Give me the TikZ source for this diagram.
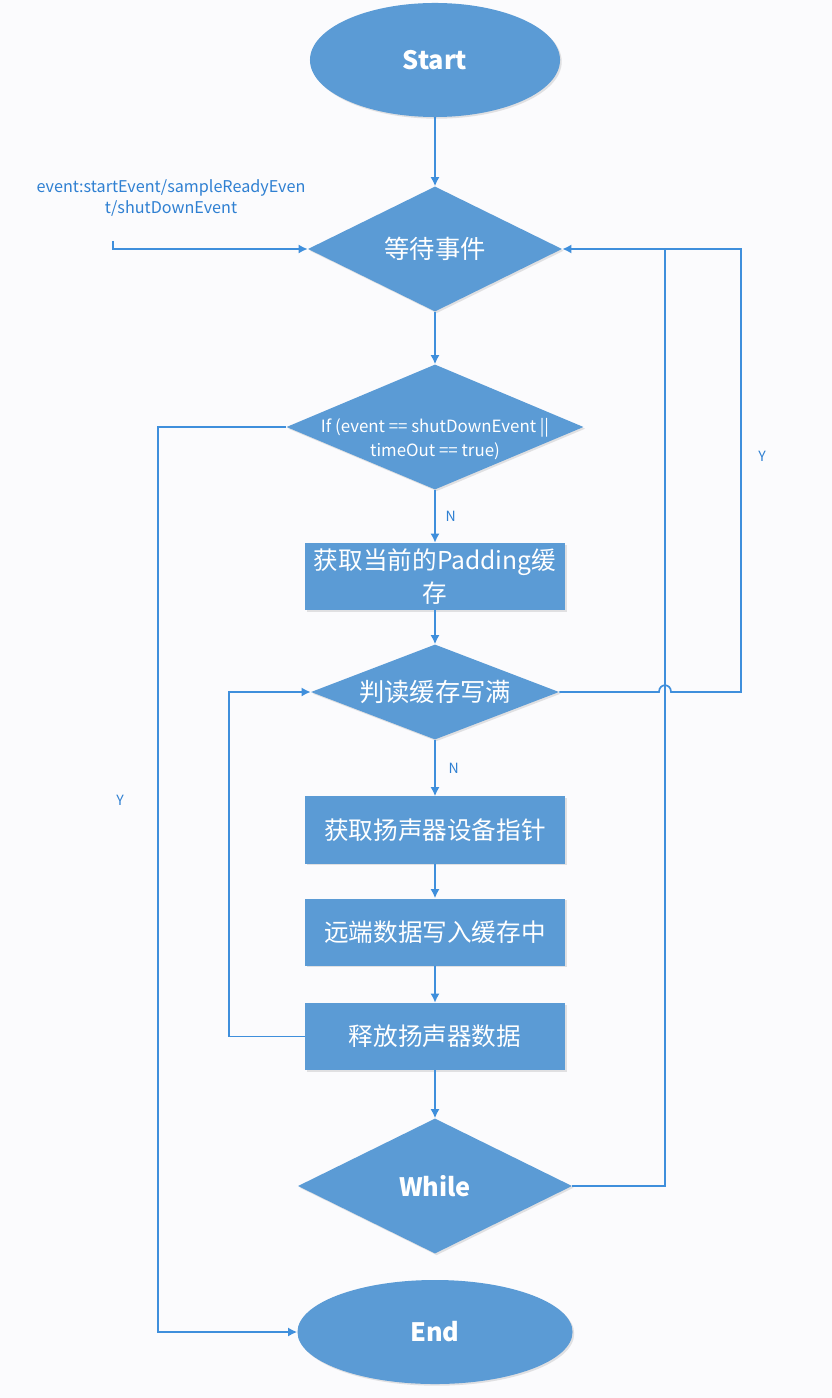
\documentclass[tikz,border=0pt]{standalone}
\usepackage{fontspec}
\setmainfont{Noto Sans CJK SC}
\usetikzlibrary{positioning,arrows.meta,shapes.geometric,shadows}
\definecolor{boxblue}{HTML}{5B9BD5}
\definecolor{lineblue}{HTML}{3F8FDC}
\definecolor{textblue}{HTML}{2F80D2}
\definecolor{paper}{HTML}{FBFBFD}
\begin{document}
\begin{tikzpicture}[x=0.025cm,y=-0.025cm,
  soft/.style={drop shadow={shadow xshift=1.2pt,shadow yshift=-1.2pt,opacity=0.15,fill=black!70}},
  terminal/.style={ellipse,fill=boxblue,text=white,inner sep=0pt,soft,font=\bfseries\fontsize{18}{22}\selectfont},
  decision/.style={diamond,aspect=2.5,fill=boxblue,text=white,inner sep=0pt,soft,font=\fontsize{18}{22}\selectfont},
  process/.style={rectangle,fill=boxblue,text=white,inner sep=0pt,soft,minimum width=6.5cm,minimum height=1.675cm,align=center,font=\fontsize{17.5}{23.5}\selectfont},
  flow/.style={draw=lineblue,line width=1.2pt},
  arr/.style={flow,-{Latex[length=6.5pt,width=6.5pt]}},
  lbl/.style={text=textblue,inner sep=0pt,font=\fontsize{10}{12}\selectfont}]
    \path[use as bounding box,fill=paper] (0,0) rectangle (832,1398);

    \node[terminal,minimum width=6.25cm,minimum height=2.85cm] (start) at (435,60) {Start};
    \node[decision,minimum width=6.35cm,minimum height=3.125cm] (wait) at (435,249) {等待事件};
    \node[decision,minimum width=7.425cm,minimum height=3.125cm] (ifev) at (435,427) {};
    \node[text=white,align=center,font=\fontsize{12}{17}\selectfont] (ifevtext) at (435,439) {If (event == shutDownEvent ||\\timeOut == true)};
    \node[process] (pad) at (435,576.5) {获取当前的Padding缓\\存};
    \node[decision,minimum width=6.2cm,minimum height=2.375cm] (full) at (435,692) {判读缓存写满};
    \node[process] (spk) at (435,830) {获取扬声器设备指针};
    \node[process] (write) at (435,932) {远端数据写入缓存中};
    \node[process] (rel) at (435,1036.5) {释放扬声器数据};
    \node[decision,minimum width=6.85cm,minimum height=3.375cm,font=\bfseries\fontsize{18}{22}\selectfont] (loop) at (435,1186) {While};
    \node[terminal,minimum width=6.875cm,minimum height=2.6cm] (fin) at (435,1332) {End};

    \node[text=textblue,align=center,font=\fontsize{11.5}{15}\selectfont] (evtext) at (171,198) {event:startEvent/sampleReadyEven\\t/shutDownEvent};
    \coordinate (evin) at (113,241);
    \coordinate (join) at (665,249);

    \draw[arr] (start) -- (wait);
    \draw[arr] (wait) -- (ifev);
    \draw[arr] (ifev) -- node[lbl,right=7pt] (n1) {N} (pad);
    \draw[arr] (pad) -- (full);
    \draw[arr] (full) -- node[lbl,right=9pt] (n2) {N} (spk);
    \draw[arr] (spk) -- (write);
    \draw[arr] (write) -- (rel);
    \draw[arr] (rel) -- (loop);
    \draw[arr] (evin) |- (wait.west);
    % Y branches
    \draw[arr] (ifev.west) -- ++(-128,0) |- (fin.west);
    \node[lbl] (y1) at (120,800) {Y};
    \draw[arr] (full.east) -- (659,692) .. controls (659,683) and (671,683) .. (671,692) -- (741,692) |- (wait.east);
    \node[lbl] (y2) at (762,456) {Y};
    \draw[flow] (loop.east) -| (join);
    \draw[arr] (rel.west) -- ++(-76,0) |- (full.west);
\end{tikzpicture}
\end{document}
